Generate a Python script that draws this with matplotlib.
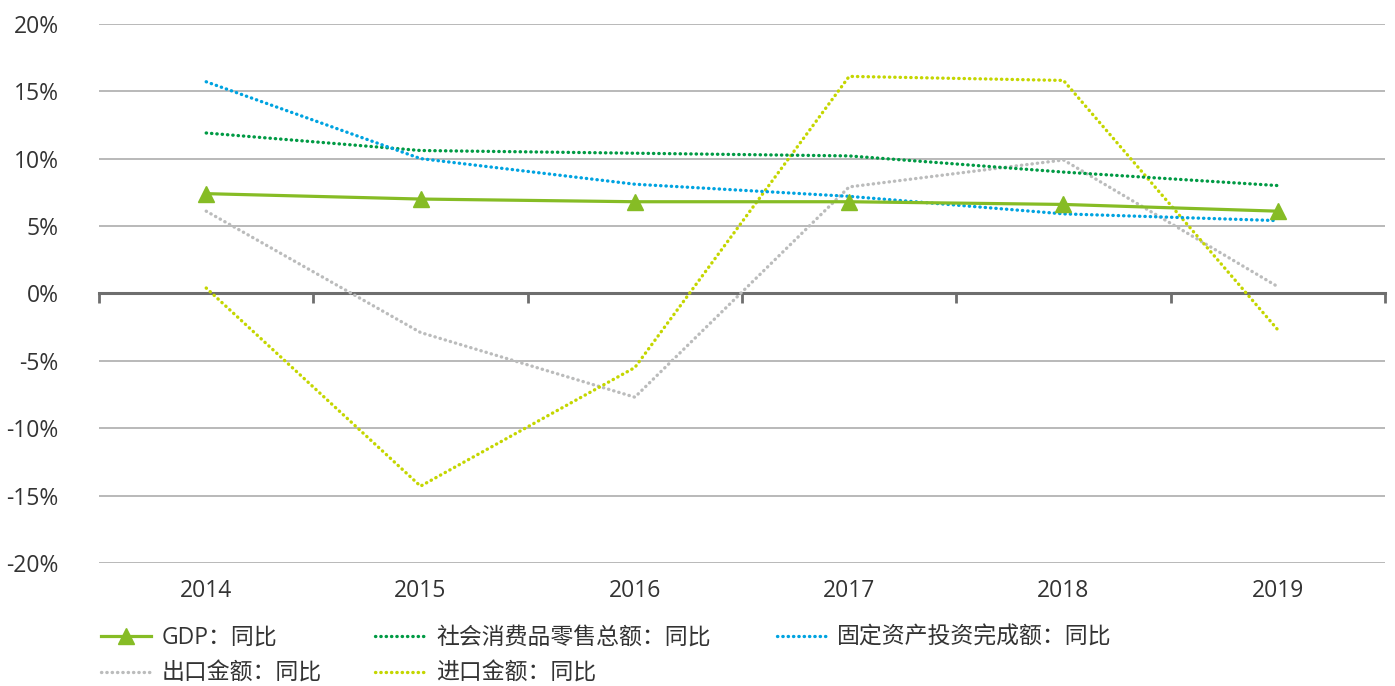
import numpy as np
import matplotlib.pyplot as plt

plt.rcParams['font.family'] = ['Open Sans', 'Noto Sans CJK SC', 'DejaVu Sans']

years = ['2014', '2015', '2016', '2017', '2018', '2019']
gdp = [7.4, 7.0, 6.8, 6.8, 6.6, 6.1]
retail = [11.9, 10.6, 10.4, 10.2, 9.0, 8.0]
fai = [15.7, 10.0, 8.1, 7.2, 5.9, 5.4]
export = [6.1, -2.9, -7.7, 7.9, 9.9, 0.5]
imports = [0.4, -14.3, -5.5, 16.1, 15.8, -2.7]

labels = ['GDP：同比', '社会消费品零售总额：同比', '固定资产投资完成额：同比',
          '出口金额：同比', '进口金额：同比']

fig = plt.figure(figsize=(13.95, 6.86), dpi=100)
ax = fig.add_axes([0.071, 0.1793, 0.9218, 0.786])

x = np.arange(len(years))
dot = (0, (0.1, 1.5))
fs = 16.5

h_gdp, = ax.plot(x, gdp, color='#86bc25', lw=2.3, marker='^', markersize=11,
                 zorder=5, label=labels[0])
h_ret, = ax.plot(x, retail, color='#009a44', lw=2.4, ls=dot, dash_capstyle='round',
                 zorder=4, label=labels[1])
h_fai, = ax.plot(x, fai, color='#00a3e0', lw=2.4, ls=dot, dash_capstyle='round',
                 zorder=4, label=labels[2])
h_exp, = ax.plot(x, export, color='#bbbcbc', lw=2.4, ls=dot, dash_capstyle='round',
                 zorder=3, label=labels[3])
h_imp, = ax.plot(x, imports, color='#c4d600', lw=2.4, ls=dot, dash_capstyle='round',
                 zorder=3, label=labels[4])

ax.set_xlim(-0.5, 5.5)
ax.set_ylim(-20, 20)
yt = np.arange(-20, 21, 5)
ax.set_yticks(yt)
ax.set_yticklabels([f'{v}%' for v in yt])
for v in yt:
    if v != 0:
        ax.axhline(v, color='#a6a6a6', lw=1.1, zorder=1)

for s in ['top', 'right', 'left']:
    ax.spines[s].set_visible(False)
ax.spines['bottom'].set_position(('data', 0))
ax.spines['bottom'].set_color('#6e6e6e')
ax.spines['bottom'].set_linewidth(2.2)
ax.set_xticks(np.arange(-0.5, 6, 1))
ax.set_xticklabels([])
ax.tick_params(axis='x', direction='out', length=7, width=2, color='#6e6e6e')
ax.tick_params(axis='y', length=0, pad=29, labelsize=fs, labelcolor='#333333')

sec = ax.secondary_xaxis('bottom')
sec.set_xticks(x)
sec.set_xticklabels(years)
sec.tick_params(length=0, pad=11.5, labelsize=fs, labelcolor='#333333')
sec.spines['bottom'].set_visible(False)

# legend, one column at a time so the column positions match
cols = [([h_gdp, h_exp], [labels[0], labels[3]], 0.0721),
        ([h_ret, h_imp], [labels[1], labels[4]], 0.2691),
        ([h_fai], [labels[2]], 0.5567)]
for hs, ls, xpos in cols:
    fig.legend(hs, ls, loc='upper left', bbox_to_anchor=(xpos, 0.088),
               frameon=False, fontsize=fs, handlelength=2.2,
               labelspacing=0.52, handletextpad=0.45, labelcolor='#333333',
               borderaxespad=0, borderpad=0)

fig.savefig('out.png', dpi=100)
